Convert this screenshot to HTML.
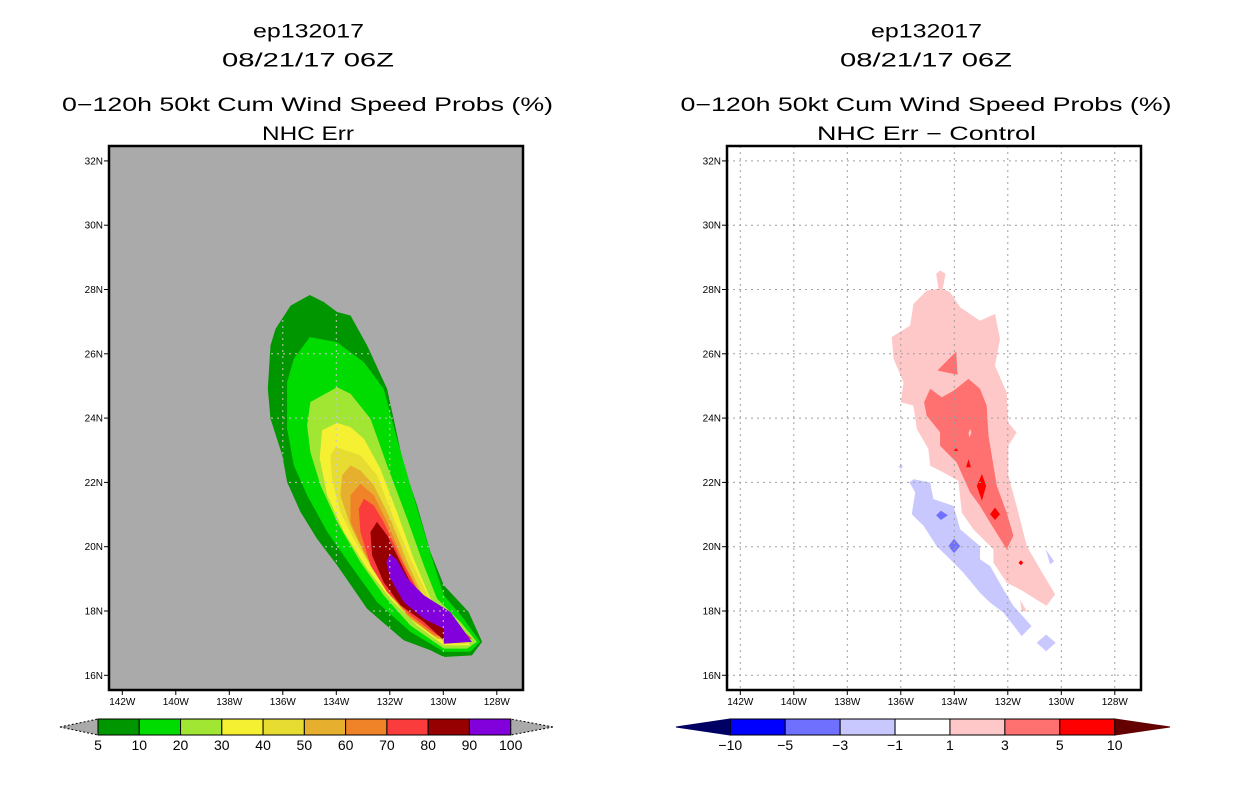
<!DOCTYPE html>
<html><head><meta charset="utf-8"><style>
html,body{margin:0;padding:0;background:#fff;}
svg text{font-family:"Liberation Sans",sans-serif;fill:#000;}
</style></head><body>
<svg id="root" width="1236" height="800" viewBox="0 0 1236 800" xmlns="http://www.w3.org/2000/svg">
<g>
<text x="308.5" y="37.5" font-size="19" text-anchor="middle" textLength="111" lengthAdjust="spacingAndGlyphs">ep132017</text>
<text x="308" y="66.5" font-size="19" text-anchor="middle" textLength="172" lengthAdjust="spacingAndGlyphs">08/21/17 06Z</text>
<text x="307.5" y="111" font-size="19" text-anchor="middle" textLength="491" lengthAdjust="spacingAndGlyphs">0−120h 50kt Cum Wind Speed Probs (%)</text>
<text x="308" y="140" font-size="19" text-anchor="middle" textLength="92" lengthAdjust="spacingAndGlyphs">NHC Err</text>
</g>
<g>
<text x="926.5" y="37.5" font-size="19" text-anchor="middle" textLength="111" lengthAdjust="spacingAndGlyphs">ep132017</text>
<text x="926" y="66.5" font-size="19" text-anchor="middle" textLength="172" lengthAdjust="spacingAndGlyphs">08/21/17 06Z</text>
<text x="926" y="111" font-size="19" text-anchor="middle" textLength="491" lengthAdjust="spacingAndGlyphs">0−120h 50kt Cum Wind Speed Probs (%)</text>
<text x="926.5" y="140" font-size="19" text-anchor="middle" textLength="219" lengthAdjust="spacingAndGlyphs">NHC Err − Control</text>
</g>
<g id="left"></g>
<g id="right"></g>
<g id="cbL"></g>
<g id="cbR"></g>
</svg>
<script>
// ---- data ----
const latTicks = [16,18,20,22,24,26,28,30,32];
const lonTicks = [142,140,138,136,134,132,130,128];
const probLevels = ["5","10","20","30","40","50","60","70","80","90","100"];
const probColors = ["#009600","#00dc00","#a0e632","#f5f032","#e6dc32","#e6af2d","#f08228","#fa3c3c","#960000","#8200dc"];
const diffLevels = ["−10","−5","−3","−1","1","3","5","10"];
const diffColors = ["#0000ff","#7070ff","#c8c8ff","#ffffff","#ffc8c8","#ff7070","#ff0000"];
// contour polygons, lon (deg W) / lat (deg N)
const p5Lon=[134.99,135.71,136.27,136.46,136.56,136.46,136.02,135.84,135.34,134.72,133.97,132.85,131.48,130.48,129.98,128.93,128.55,129.05,129.98,130.48,130.98,131.48,132.10,132.85,133.47,133.97,134.47];
const p5Lat=[27.83,27.50,26.78,26.26,24.91,23.98,22.84,22.01,21.08,20.25,19.42,18.07,17.09,16.78,16.57,16.62,17.04,17.97,18.80,19.83,21.28,22.53,24.91,26.26,27.19,27.30,27.61];
const p10Lon=[134.99,135.59,135.84,135.84,135.59,135.09,134.34,133.47,132.48,131.23,129.98,128.99,128.62,129.24,129.98,130.42,131.23,131.73,132.23,132.97,133.97];
const p10Lat=[26.52,25.84,25.12,23.67,22.53,21.60,20.46,19.42,18.28,17.35,16.73,16.73,17.04,17.76,18.49,19.63,21.91,23.36,24.91,25.74,26.36];
const p20Lon=[133.97,134.97,135.09,134.97,134.59,133.97,133.10,132.23,131.23,129.98,129.11,128.74,129.36,130.23,130.73,131.35,132.10,132.72,133.47];
const p20Lat=[24.96,24.50,23.77,22.94,21.91,20.77,19.52,18.49,17.55,16.83,16.83,17.04,17.66,18.38,19.42,20.87,22.53,23.98,24.76];
const p30Lon=[133.97,134.53,134.62,134.34,133.72,132.85,131.98,130.98,129.98,128.99,129.49,130.48,131.11,131.73,132.35,132.97,133.47];
const p30Lat=[23.85,23.62,22.74,21.60,20.46,19.32,18.38,17.55,16.93,16.93,17.55,18.38,19.63,21.08,22.42,23.36,23.72];
const p40Lon=[134.03,134.22,134.16,133.85,133.35,132.60,131.73,130.73,129.86,129.11,129.61,130.48,131.23,131.85,132.48,133.10];
const p40Lat=[23.10,22.84,22.11,21.08,20.25,19.21,18.28,17.45,16.98,16.98,17.55,18.28,19.63,20.87,22.22,22.84];
const p50Lon=[133.47,133.78,133.85,133.47,132.85,132.10,131.23,130.23,129.24,129.74,130.61,131.35,131.98,132.60,133.10];
const p50Lat=[22.53,22.22,21.60,20.66,19.63,18.59,17.76,17.14,17.04,17.55,18.18,19.52,20.87,21.91,22.37];
const p60Lon=[133.10,133.47,133.47,132.97,132.23,131.35,130.36,129.36,129.86,130.73,131.48,132.10,132.60];
const p60Lat=[21.96,21.60,20.77,19.83,18.80,17.87,17.24,17.09,17.66,18.28,19.52,20.77,21.60];
const p70Lon=[132.97,133.16,133.10,132.72,132.10,131.23,130.23,129.74,128.93,129.98,130.86,131.60,132.23,132.60];
const p70Lat=[21.49,21.18,20.46,19.42,18.59,17.87,17.24,17.14,17.14,17.92,18.49,19.63,20.77,21.28];
const p80Lon=[132.48,132.72,132.66,132.23,131.60,130.73,129.98,128.99,130.05,131.11,131.73,132.10];
const p80Lat=[20.77,20.46,19.73,18.90,18.18,17.66,17.09,17.09,18.07,18.69,19.73,20.35];
const p90Lon=[131.98,132.13,131.98,131.48,130.73,129.98,129.98,128.93,129.74,130.73,131.35,131.73];
const p90Lat=[19.78,19.52,19.01,18.28,17.76,17.45,16.98,17.04,17.97,18.49,19.01,19.58];

const d1Lon=[134.53,134.33,134.43,134.16,133.78,133.04,132.48,132.29,132.48,132.04,131.98,131.67,131.98,131.98,131.67,131.29,130.79,130.23,130.55,131.54,132.04,132.54,132.54,133.29,133.72,133.85,134.41,134.90,134.97,135.40,135.53,136.00,135.90,136.27,136.34,135.65,135.53,135.03,134.59,134.68];
const d1Lat=[28.59,28.49,28.02,27.92,27.45,27.03,27.24,26.46,25.63,24.80,23.86,23.55,23.14,22.21,21.27,20.02,19.30,18.52,18.16,18.67,18.88,19.51,19.92,20.54,21.06,22.05,22.31,22.52,23.04,23.66,24.39,24.49,25.11,25.84,26.52,26.88,27.55,27.97,28.02,28.49];
const d1bLon=[131.54,131.29,131.48];
const d1bLat=[18.35,17.99,17.99];
const d3aLon=[133.93,134.63,133.88];
const d3aLat=[26.07,25.48,25.35];
const d3Lon=[133.47,134.03,134.47,134.90,135.13,135.03,134.53,134.53,133.91,133.41,133.04,132.66,132.04,131.79,132.04,132.41,132.72,132.79,133.04];
const d3Lat=[25.22,24.85,24.65,24.91,24.49,24.07,23.56,23.14,22.62,21.69,21.27,20.75,19.92,20.34,21.06,21.89,23.45,24.39,24.91];
const dPinkDotLon=[133.47,133.40,133.36,133.43];
const dPinkDotLat=[23.54,23.66,23.54,23.40];
const d5aLon=[132.97,133.16,132.97,132.81];
const d5aLat=[22.26,21.89,21.43,21.89];
const d5bLon=[132.48,132.66,132.48,132.29];
const d5bLat=[21.22,21.01,20.83,21.01];
const d5cLon=[133.47,133.56,133.38];
const d5cLat=[22.72,22.47,22.47];
const d5dLon=[133.93,134.03,133.85];
const d5dLat=[23.06,22.98,22.98];
const d5eLon=[131.51,131.60,131.51,131.42];
const d5eLat=[19.58,19.50,19.42,19.50];
const dm1Lon=[135.53,135.68,135.46,135.59,135.15,134.66,134.16,133.66,133.04,132.66,132.16,131.48,131.11,131.79,132.16,132.66,133.04,133.04,133.78,134.03,134.78,134.90];
const dm1Lat=[22.10,22.00,21.69,21.01,20.65,20.02,19.61,19.19,18.57,18.26,17.95,17.22,17.53,18.16,18.67,19.40,19.61,20.02,20.54,21.27,21.48,22.00];
const dm1bLon=[130.92,130.57,130.21,130.57];
const dm1bLat=[17.01,17.27,17.01,16.75];
const dm1cLon=[130.58,130.42,130.27];
const dm1cLat=[19.92,19.45,19.55];
const dm1dLon=[136.00,136.08,136.00,135.92];
const dm1dLat=[22.57,22.49,22.41,22.49];
const dm3aLon=[134.68,134.50,134.24,134.50];
const dm3aLat=[20.98,21.12,20.98,20.83];
const dm3bLon=[134.22,134.01,133.78,134.01];
const dm3bLat=[20.02,20.25,20.02,19.80];

// ---- rendering ----
const NS='http://www.w3.org/2000/svg';
function mk(tag,attrs,parent){const e=document.createElementNS(NS,tag);for(const k in attrs)e.setAttribute(k,attrs[k]);parent.appendChild(e);return e;}
function makeAxes(x0,lonRef){ // lonRef: pixel of 142W
  return {x:lon=>lonRef+(142-lon)*26.75, y:lat=>675.3-(lat-16)*32.15, left:x0, right:x0+414, top:146, bottom:690};
}
const A=makeAxes(109,122.3), B=makeAxes(727,740.3);
function poly(ax,lons,lats,fill,parent,name){
  const pts=lons.map((l,i)=>ax.x(l).toFixed(1)+','+ax.y(lats[i]).toFixed(1)).join(' ');
  const p=mk('polygon',{points:pts,fill:fill},parent);
  
  
  return p;
}
function axesDecor(ax,g,gridColor,clipId){
  const grid=mk('g',clipId?{'clip-path':'url(#'+clipId+')'}:{},g);
  
  
  latTicks.forEach(t=>{const y=ax.y(t);
    const l=mk('line',{x1:ax.left,x2:ax.right,y1:y,y2:y,stroke:gridColor,'stroke-width':1,'stroke-dasharray':'2,4'},grid);
    
    
    const tk=mk('line',{x1:ax.left-5,x2:ax.left,y1:y,y2:y,stroke:'#000','stroke-width':1},g);
    
    
    const tx=mk('text',{x:ax.left-6,y:y+3.5,'font-size':10,'text-anchor':'end'},g);tx.textContent=t+'N';
    
    
  });
  lonTicks.forEach(t=>{const x=ax.x(t);
    const l=mk('line',{x1:x,x2:x,y1:ax.top,y2:ax.bottom,stroke:gridColor,'stroke-width':1,'stroke-dasharray':'2,4'},grid);
    
    
    const tk=mk('line',{x1:x,x2:x,y1:ax.bottom,y2:ax.bottom+5,stroke:'#000','stroke-width':1},g);
    
    
    const tx=mk('text',{x:x,y:ax.bottom+15,'font-size':10,'text-anchor':'middle'},g);tx.textContent=t+'W';
    
    
  });
  const fr=mk('rect',{x:ax.left,y:ax.top,width:ax.right-ax.left,height:ax.bottom-ax.top,fill:'none',stroke:'#000','stroke-width':2.5},g);
  
  
}
// left
const gL=document.getElementById('left');
const bgL=mk('rect',{x:A.left,y:A.top,width:414,height:544,fill:'#aaaaaa'},gL);


const defs=mk('defs',{},gL);
const cp=mk('clipPath',{id:'outerClip'},defs);
poly(A,p5Lon,p5Lat,'#000',cp,'clip-shape');
const probPolys=[[p5Lon,p5Lat],[p10Lon,p10Lat],[p20Lon,p20Lat],[p30Lon,p30Lat],[p40Lon,p40Lat],[p50Lon,p50Lat],[p60Lon,p60Lat],[p70Lon,p70Lat],[p80Lon,p80Lat],[p90Lon,p90Lat]];
probPolys.forEach((pp,i)=>poly(A,pp[0],pp[1],probColors[i],gL,'prob-contour-'+probLevels[i]));
axesDecor(A,gL,'#c8c8c8','outerClip');
// right
const gR=document.getElementById('right');
const bgR=mk('rect',{x:B.left,y:B.top,width:414,height:544,fill:'#fff'},gR);


[[d1Lon,d1Lat,4,'diff-1-3-region'],[d1bLon,d1bLat,4,'diff-1-3-small'],[dm1Lon,dm1Lat,2,'diff-neg1-neg3-region'],[dm1bLon,dm1bLat,2,'diff-neg1-neg3-diamond'],[dm1cLon,dm1cLat,2,'diff-neg1-neg3-sliver'],[dm1dLon,dm1dLat,2,'diff-neg1-neg3-dot'],
 [d3aLon,d3aLat,5,'diff-3-5-triangle'],[d3Lon,d3Lat,5,'diff-3-5-region'],[dPinkDotLon,dPinkDotLat,4,'diff-1-3-dot'],
 [d5aLon,d5aLat,6,'diff-5-10-blob'],[d5bLon,d5bLat,6,'diff-5-10-blob'],[d5cLon,d5cLat,6,'diff-5-10-blob'],[d5dLon,d5dLat,6,'diff-5-10-blob'],[d5eLon,d5eLat,6,'diff-5-10-blob'],
 [dm3aLon,dm3aLat,1,'diff-neg3-neg5-blob'],[dm3bLon,dm3bLat,1,'diff-neg3-neg5-blob']
].forEach(d=>poly(B,d[0],d[1],diffColors[d[2]],gR,d[3]));
axesDecor(B,gR,'#a0a0a0',null);
// colorbars
function colorbar(g,x0,x1,tipL,tipR,colors,labels,lcol,rcol,dashedTips){
  const n=colors.length,w=(x1-x0)/n,yt=719,yb=735,ym=727;
  const tl=mk('polygon',{points:`${tipL},${ym} ${x0},${yt} ${x0},${yb}`,fill:lcol,stroke:dashedTips?'#000':lcol,'stroke-width':1,'stroke-dasharray':dashedTips?'2,2':'none'},g);
  
  
  const tr=mk('polygon',{points:`${tipR},${ym} ${x1},${yt} ${x1},${yb}`,fill:rcol,stroke:dashedTips?'#000':rcol,'stroke-width':1,'stroke-dasharray':dashedTips?'2,2':'none'},g);
  
  
  colors.forEach((c,i)=>{
    const r=mk('rect',{x:x0+i*w,y:yt,width:w,height:yb-yt,fill:c,stroke:'#000','stroke-width':1},g);
    
    
  });
  labels.forEach((t,i)=>{
    const tx=mk('text',{x:x0+i*w,y:750,'font-size':14,'text-anchor':'middle'},g);tx.textContent=t;
    
    
  });
}
colorbar(document.getElementById('cbL'),98,510.7,60,553,probColors,probLevels,'#aaaaaa','#aaaaaa',true);
colorbar(document.getElementById('cbR'),730.3,1114.7,676,1170,diffColors,diffLevels,'#000064','#640000',false);
</script>
</body></html>
